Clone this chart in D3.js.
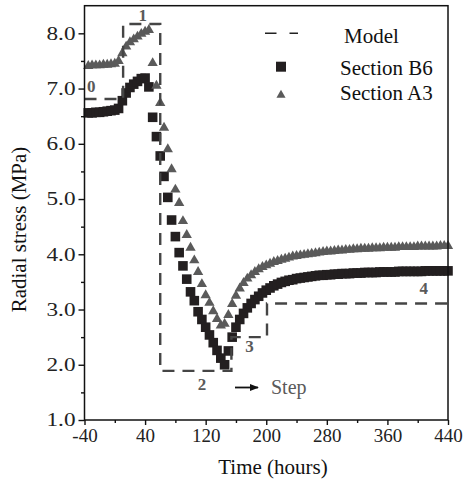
<!DOCTYPE html>
<html>
<head>
<meta charset="utf-8">
<script src="https://cdn.jsdelivr.net/npm/d3@7"></script>
<style>
  html, body { margin: 0; padding: 0; background: #fff; }
  svg { display: block; }
  text { font-family: "Liberation Serif", "Times New Roman", serif; }
</style>
</head>
<body>
<svg id="chart" width="466" height="479"></svg>
<script>
// ---------------- data ----------------
const timeHours = [
  -35, -30, -25, -20, -15, -10, -5, 0, 5, 10, 15, 20, 25, 30, 35, 40, 45, 50, 55, 60,
  65, 70, 75, 80, 85, 90, 95, 100, 105, 110, 115, 120, 125, 130, 135, 140, 145, 150, 155, 160,
  165, 170, 175, 180, 185, 190, 195, 200, 205, 210, 215, 220, 225, 230, 235, 240, 245, 250, 255, 260,
  265, 270, 275, 280, 285, 290, 295, 300, 305, 310, 315, 320, 325, 330, 335, 340, 345, 350, 355, 360,
  365, 370, 375, 380, 385, 390, 395, 400, 405, 410, 415, 420, 425, 430, 435, 440
];
const sectionB6 = [
  6.56, 6.56, 6.57, 6.57, 6.58, 6.59, 6.60, 6.61, 6.64, 6.78, 6.92, 7.02, 7.08, 7.13, 7.18, 7.19, 7.03, 6.48, 6.13, 5.78,
  5.41, 5.03, 4.62, 4.32, 4.03, 3.79, 3.55, 3.32, 3.16, 2.96, 2.82, 2.68, 2.54, 2.40, 2.26, 2.12, 2.00, 2.25, 2.50, 2.68,
  2.82, 2.93, 3.03, 3.11, 3.18, 3.24, 3.30, 3.35, 3.39, 3.43, 3.46, 3.49, 3.51, 3.53, 3.54, 3.56, 3.57, 3.58, 3.59, 3.60,
  3.61, 3.62, 3.62, 3.63, 3.63, 3.64, 3.64, 3.65, 3.65, 3.65, 3.66, 3.66, 3.66, 3.67, 3.67, 3.67, 3.67, 3.68, 3.68, 3.68,
  3.68, 3.68, 3.69, 3.69, 3.69, 3.69, 3.69, 3.69, 3.69, 3.70, 3.70, 3.70, 3.70, 3.70, 3.70, 3.70
];
const sectionA3 = [
  7.41, 7.42, 7.42, 7.42, 7.43, 7.43, 7.44, 7.45, 7.50, 7.64, 7.76, 7.84, 7.89, 7.94, 7.99, 8.03, 8.06, 7.46, 7.05, 6.74,
  6.29, 5.90, 5.54, 5.17, 4.93, 4.60, 4.35, 4.12, 3.89, 3.68, 3.46, 3.26, 3.12, 2.97, 2.83, 2.71, 2.74, 2.90, 3.10, 3.25,
  3.38, 3.48, 3.56, 3.62, 3.68, 3.73, 3.77, 3.80, 3.83, 3.86, 3.88, 3.90, 3.92, 3.94, 3.96, 3.97, 3.98, 3.99, 4.00, 4.01,
  4.02, 4.03, 4.04, 4.05, 4.05, 4.06, 4.07, 4.07, 4.08, 4.08, 4.09, 4.09, 4.10, 4.10, 4.10, 4.11, 4.11, 4.11, 4.12, 4.12,
  4.12, 4.12, 4.13, 4.13, 4.13, 4.13, 4.13, 4.14, 4.14, 4.14, 4.14, 4.14, 4.14, 4.15, 4.15, 4.15
];
// model step path (corner points)
const modelTime  = [-40, 11, 11, 60, 60, 154, 154, 201, 201, 440];
const modelValue = [6.81, 6.81, 8.17, 8.17, 1.89, 1.89, 2.50, 2.50, 3.11, 3.11];
// step labels
const stepLabels = ["0", "1", "2", "3", "4"];
const stepLabelTime  = [-31, 37, 115, 178, 408];
const stepLabelValue = [6.94, 8.22, 1.54, 2.24, 3.29];

const xTickValues = [-40, 0, 40, 80, 120, 160, 200, 240, 280, 320, 360, 400, 440];
const xTickLabels = ["-40", "", "40", "", "120", "", "200", "", "280", "", "360", "", "440"];
const yTickValues = [1.0, 1.5, 2.0, 2.5, 3.0, 3.5, 4.0, 4.5, 5.0, 5.5, 6.0, 6.5, 7.0, 7.5, 8.0];
const yTickLabels = ["1.0", "", "2.0", "", "3.0", "", "4.0", "", "5.0", "", "6.0", "", "7.0", "", "8.0"];

const legendLabels = ["Model", "Section B6", "Section A3"];

// ---------------- drawing ----------------
const svg = d3.select("#chart");
const x = d3.scaleLinear().domain([-40, 440]).range([84.5, 448]);
const y = d3.scaleLinear().domain([1, 8.5]).range([420, 5.7]);

const cB6 = "#231f20", cA3 = "#5a5a5a", cModel = "#454545", cLabel = "#5a5a5a";

const b6 = timeHours.map((t, i) => ({ t, v: sectionB6[i] }));
const a3 = timeHours.map((t, i) => ({ t, v: sectionA3[i] }));

// squares
svg.append("g").selectAll("path").data(b6).join("path")
  .attr("d", d3.symbol(d3.symbolSquare, 92))
  .attr("transform", d => `translate(${x(d.t)},${y(d.v)})`)
  .attr("fill", cB6);

// triangles
svg.append("g").selectAll("path").data(a3).join("path")
  .attr("d", d3.symbol(d3.symbolTriangle, 46))
  .attr("transform", d => `translate(${x(d.t)},${y(d.v)})`)
  .attr("fill", cA3);

// model dashed step line
const model = modelTime.map((t, i) => ({ t, v: modelValue[i] }));
svg.append("path")
  .datum(model)
  .attr("d", d3.line().x(d => x(d.t)).y(d => y(d.v)))
  .attr("fill", "none")
  .attr("stroke", cModel)
  .attr("stroke-width", 2.4)
  .attr("stroke-dasharray", "12,8");

// step labels
svg.append("g").selectAll("text").data(stepLabels).join("text")
  .attr("x", (d, i) => x(stepLabelTime[i]))
  .attr("y", (d, i) => y(stepLabelValue[i]))
  .attr("text-anchor", "middle")
  .attr("font-size", 17)
  .attr("font-weight", "bold")
  .attr("fill", cLabel)
  .text(d => d);

// axes
const xAxis = svg.append("g").attr("transform", `translate(0,${y(1)})`)
  .call(d3.axisBottom(x).tickValues(xTickValues).tickSize(5).tickPadding(4)
    .tickFormat((d, i) => xTickLabels[i]));
const yAxis = svg.append("g").attr("transform", `translate(${x(-40)},0)`)
  .call(d3.axisLeft(y).tickValues(yTickValues).tickSize(6).tickPadding(3)
    .tickFormat((d, i) => yTickLabels[i]));
[xAxis, yAxis].forEach(g => {
  g.select(".domain").remove();
  g.selectAll(".tick line").attr("stroke", "#111").attr("stroke-width", 1.4);
  g.selectAll(".tick text").attr("font-family", "Liberation Serif, serif")
    .attr("font-size", 19).attr("fill", "#222");
});
xAxis.selectAll(".tick line").filter((d, i) => xTickLabels[i] === "").attr("y2", 3);
yAxis.selectAll(".tick line").filter((d, i) => yTickLabels[i] === "").attr("x2", -3.5);
yAxis.selectAll(".tick text").filter((d, i) => yTickLabels[i] !== "")
  .attr("font-size", 18).attr("textLength", 29).attr("lengthAdjust", "spacingAndGlyphs");

// frame
svg.append("rect")
  .attr("x", x(-40)).attr("y", y(8.5))
  .attr("width", x(440) - x(-40)).attr("height", y(1) - y(8.5))
  .attr("fill", "none").attr("stroke", "#111").attr("stroke-width", 1.5);

// axis titles
svg.append("text")
  .attr("x", 273).attr("y", 473.5)
  .attr("text-anchor", "middle").attr("font-size", 21).attr("fill", "#111")
  .text("Time (hours)");
svg.append("text")
  .attr("transform", "translate(26,229.5) rotate(-90)")
  .attr("text-anchor", "middle").attr("font-size", 21).attr("fill", "#111")
  .text("Radial stress (MPa)");

// legend
const lg = svg.append("g");
const legendMarkY = [33.3, 66.7, 95];
const legendTextY = [43, 75, 100];
lg.append("line").attr("x1", 265).attr("x2", 298).attr("y1", legendMarkY[0]).attr("y2", legendMarkY[0])
  .attr("stroke", "#222").attr("stroke-width", 1.5).attr("stroke-dasharray", "11.5,13");
lg.append("path").attr("d", d3.symbol(d3.symbolSquare, 100))
  .attr("transform", `translate(281,${legendMarkY[1]})`).attr("fill", cB6);
lg.append("path").attr("d", d3.symbol(d3.symbolTriangle, 36))
  .attr("transform", `translate(281,${legendMarkY[2]})`).attr("fill", cA3);
lg.selectAll("text").data(legendLabels).join("text")
  .attr("x", (d, i) => i === 0 ? 344 : 340)
  .attr("y", (d, i) => legendTextY[i])
  .attr("font-size", 21).attr("fill", "#111")
  .text(d => d);

// step arrow annotation
const defs = svg.append("defs");
defs.append("marker").attr("id", "arr").attr("viewBox", "0 0 10 10")
  .attr("refX", 9).attr("refY", 5).attr("markerWidth", 9).attr("markerHeight", 9)
  .attr("markerUnits", "userSpaceOnUse").attr("orient", "auto")
  .append("path").attr("d", "M0,1 L10,5 L0,9 Z").attr("fill", "#111");
svg.append("line").attr("x1", 235).attr("x2", 258).attr("y1", 387.5).attr("y2", 387.5)
  .attr("stroke", "#111").attr("stroke-width", 1.8).attr("marker-end", "url(#arr)");
svg.append("text").attr("x", 271).attr("y", 394).attr("font-size", 20).attr("fill", cLabel)
  .text("Step");
</script>
</body>
</html>
